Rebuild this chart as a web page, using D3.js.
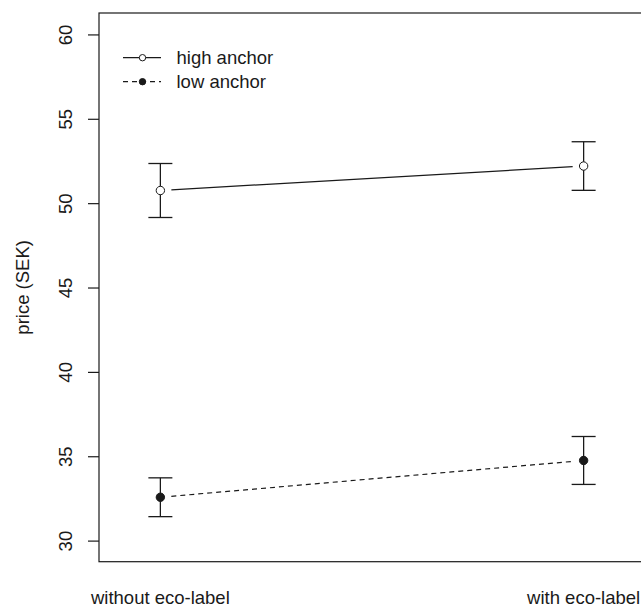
<!DOCTYPE html>
<html>
<head>
<meta charset="utf-8">
<script src="https://cdn.jsdelivr.net/npm/d3@7"></script>
<style>
  html, body { margin: 0; padding: 0; background: #fff; }
  svg { display: block; font-family: "Liberation Sans", Arial, Helvetica, sans-serif; }
</style>
</head>
<body>
<svg id="chart" width="641" height="606"></svg>
<script>
// ---- data ----
const categories = ["without eco-label", "with eco-label"];
const seriesNames = ["high anchor", "low anchor"];
const highMeans = [50.75, 52.2];
const highErr = [1.6, 1.44];
const lowMeans = [32.57, 34.75];
const lowErr = [1.15, 1.42];
const yTicks = [30, 35, 40, 45, 50, 55, 60];
const yLabel = "price (SEK)";

(function () {
const series = [
  { name: seriesNames[0], means: highMeans, err: highErr, filled: false, dash: null },
  { name: seriesNames[1], means: lowMeans, err: lowErr, filled: true, dash: "5,4" }
];

const svg = d3.select("#chart");
const pL = 99, pT = 13, pR = 645, pB = 561.7;
const ink = "#1a1a1a";
const fontSize = "18.5px";

const x = d3.scaleLinear().domain([0.855, 2.145]).range([pL, pR]);
const y = d3.scaleLinear().domain([28.75, 61.27]).range([pB, pT]);

// box
svg.append("rect")
  .attr("x", pL).attr("y", pT)
  .attr("width", pR - pL).attr("height", pB - pT)
  .attr("fill", "none").attr("stroke", ink).attr("stroke-width", 1.2);

// y axis
const yAxis = d3.axisLeft(y).tickValues(yTicks).tickSize(11).tickPadding(0).tickFormat(d3.format("d"));
const gy = svg.append("g").attr("transform", `translate(${pL},0)`).call(yAxis);
gy.select(".domain").remove();
gy.selectAll(".tick line").attr("stroke", ink).attr("stroke-width", 1.2);
gy.selectAll(".tick text")
  .attr("x", null).attr("dy", null)
  .attr("transform", "translate(-27,0) rotate(-90)")
  .attr("text-anchor", "middle")
  .attr("fill", ink)
  .style("font-size", fontSize)
  .style("font-family", "'Liberation Sans', Arial, sans-serif");

// y label
svg.append("text")
  .attr("transform", `translate(29,${(pT + pB) / 2}) rotate(-90)`)
  .attr("text-anchor", "middle")
  .attr("fill", ink)
  .style("font-size", fontSize)
  .text(yLabel);

// x labels
categories.forEach((c, i) => {
  svg.append("text")
    .attr("x", x(i + 1)).attr("y", 603.5)
    .attr("text-anchor", "middle")
    .attr("fill", ink)
    .style("font-size", fontSize)
    .text(c);
});

const gap = 11, cap = 12, r = 4.2;

series.forEach(s => {
  const pts = s.means.map((m, i) => [x(i + 1), y(m)]);
  const [p0, p1] = pts;
  const dx = p1[0] - p0[0], dy = p1[1] - p0[1];
  const len = Math.hypot(dx, dy);
  const ux = dx / len, uy = dy / len;
  svg.append("line")
    .attr("x1", p0[0] + ux * gap).attr("y1", p0[1] + uy * gap)
    .attr("x2", p1[0] - ux * gap).attr("y2", p1[1] - uy * gap)
    .attr("stroke", ink).attr("stroke-width", 1.2)
    .attr("stroke-dasharray", s.dash);
  s.means.forEach((m, i) => {
    const cx = x(i + 1);
    const yt = y(m + s.err[i]), yb = y(m - s.err[i]);
    const g = svg.append("g").attr("stroke", ink).attr("stroke-width", 1.3);
    g.append("line").attr("x1", cx).attr("x2", cx).attr("y1", yt).attr("y2", yb);
    g.append("line").attr("x1", cx - cap).attr("x2", cx + cap).attr("y1", yt).attr("y2", yt);
    g.append("line").attr("x1", cx - cap).attr("x2", cx + cap).attr("y1", yb).attr("y2", yb);
  });
  svg.selectAll(null).data(pts).enter().append("circle")
    .attr("cx", d => d[0]).attr("cy", d => d[1]).attr("r", r)
    .attr("fill", s.filled ? ink : "#fff")
    .attr("stroke", ink).attr("stroke-width", 1);
});

// legend
const legY = [57.7, 81.7];
series.forEach((s, i) => {
  const ly = legY[i];
  svg.append("line")
    .attr("x1", 123).attr("x2", 161).attr("y1", ly).attr("y2", ly)
    .attr("stroke", ink).attr("stroke-width", 1.2)
    .attr("stroke-dasharray", s.dash);
  svg.append("circle")
    .attr("cx", 142.5).attr("cy", ly).attr("r", 3.2)
    .attr("fill", s.filled ? ink : "#fff")
    .attr("stroke", ink).attr("stroke-width", 1);
  svg.append("text")
    .attr("x", 176.5).attr("y", ly).attr("dy", "0.35em")
    .attr("fill", ink)
    .style("font-size", fontSize)
    .text(s.name);
});
})();
</script>
</body>
</html>
